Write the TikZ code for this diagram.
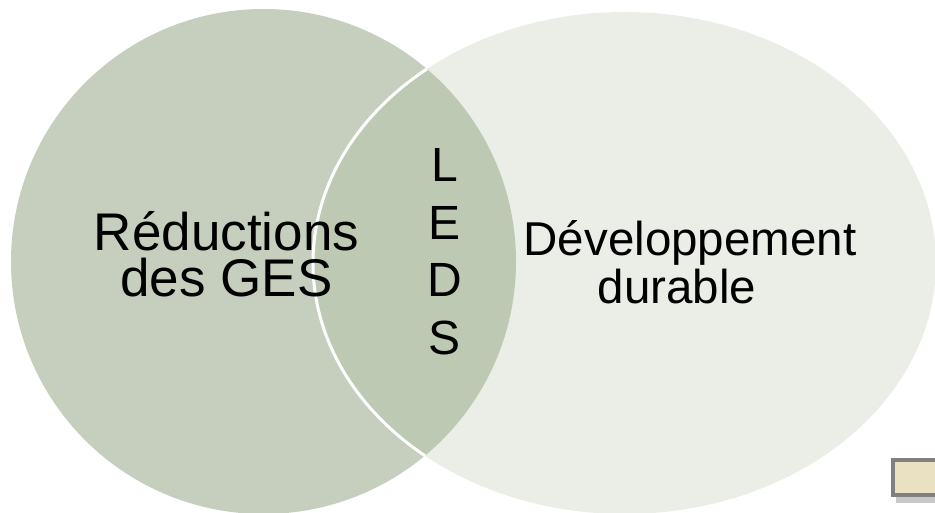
\documentclass[tikz,border=0pt]{standalone}
\usepackage{fontspec}
\setmainfont{Liberation Sans}
\definecolor{gesgreen}{HTML}{C6CFBD}
\definecolor{ledsgreen}{HTML}{BEC9B4}
\definecolor{devpale}{HTML}{EBEEE6}
\definecolor{boxcream}{HTML}{E9E1C1}
\definecolor{boxrim}{HTML}{808080}
\definecolor{boxshade}{HTML}{C8C8C8}
\begin{document}
\begin{tikzpicture}[x=1pt, y=-1pt,
    settext/.style={align=center, inner sep=0pt}]
    \useasboundingbox (0,0) rectangle (935,513);

    % Sets
    \coordinate (gesc) at (263.5,261.5);
    \coordinate (devc) at (624.5,263);
    \fill[gesgreen] (gesc) circle [radius=252.5];
    \fill[devpale] (devc) ellipse [x radius=311.5, y radius=251];

    % Overlap
    \begin{scope}
        \clip (gesc) circle [radius=252.5];
        \fill[ledsgreen] (devc) ellipse [x radius=311.5, y radius=251];
        \draw[white, line width=3pt] (devc) ellipse [x radius=311.5, y radius=251];
    \end{scope}

    % Labels
    \node[settext, font=\fontsize{53}{46}\selectfont] (ges) at (226.5,254) {Réductions\\des GES};
    \node[settext, font=\fontsize{47.5}{48}\selectfont] (dev) at (690,262.5) {Développement\\durable\hspace*{26pt}};
    \node[settext, font=\fontsize{48}{57.7}\selectfont] (leds) at (444.5,251.8) {L\\E\\D\\S};

    % Corner box
    \fill[boxshade] (896,497) rectangle (940,503);
    \draw[boxrim, line width=4pt, fill=boxcream] (892.8,460.3) rectangle (945,494.6);
\end{tikzpicture}
\end{document}
